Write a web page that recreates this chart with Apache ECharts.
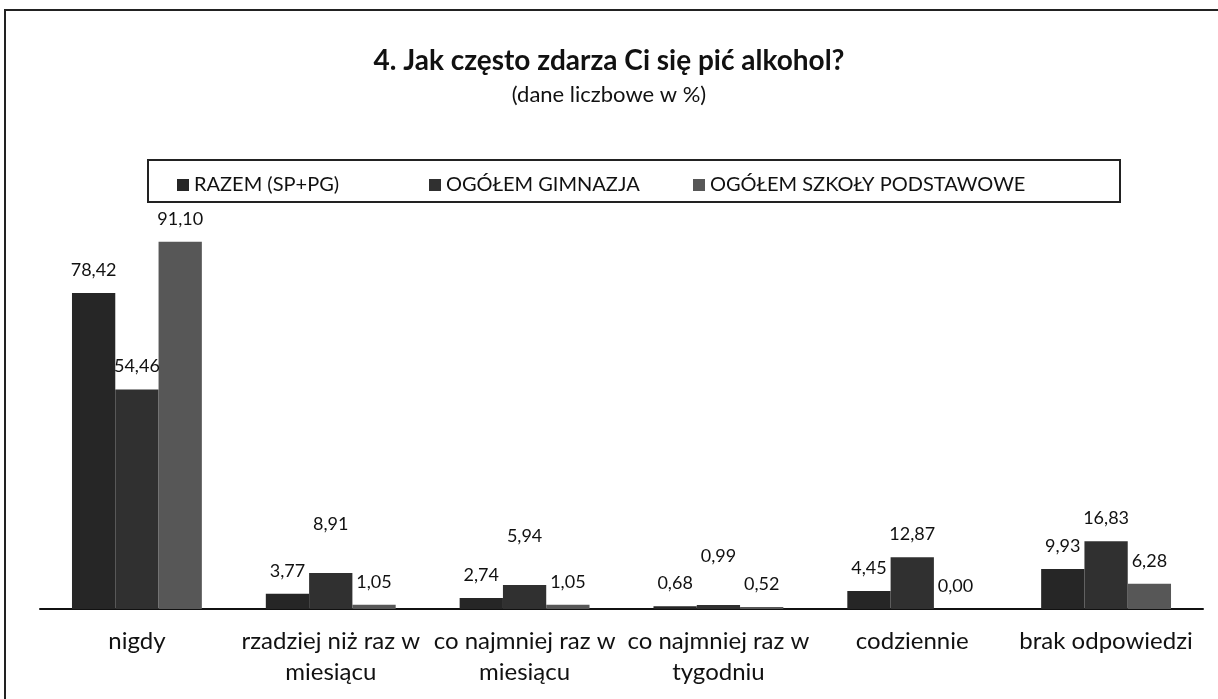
<!DOCTYPE html>
<html>
<head>
<meta charset="utf-8">
<script src="https://cdn.jsdelivr.net/npm/echarts@6/dist/echarts.min.js"></script>
<style>
  html, body { margin: 0; padding: 0; background: #fff; }
  #chart { width: 1218px; height: 699px; }
</style>
</head>
<body>
<div id="chart"></div>
<script>
const categories = [
  'nigdy',
  'rzadziej niż raz w\nmiesiącu',
  'co najmniej raz w\nmiesiącu',
  'co najmniej raz w\ntygodniu',
  'codziennie',
  'brak odpowiedzi'
];

const seriesNames = ['RAZEM (SP+PG)', 'OGÓŁEM GIMNAZJA', 'OGÓŁEM SZKOŁY PODSTAWOWE'];

const razemData = [78.42, 3.77, 2.74, 0.68, 4.45, 9.93];
const gimnazjaData = [54.46, 8.91, 5.94, 0.99, 12.87, 16.83];
const podstawoweData = [91.1, 1.05, 1.05, 0.52, 0.0, 6.28];

// labels of the middle bars that were moved up by hand in the original
const liftedGimnazjaLabels = [false, true, true, true, false, false];

const colors = ['#262626', '#303030', '#575757'];
const fontFamily = 'Lato, "Noto Sans", sans-serif';

const chart = echarts.init(document.getElementById('chart'));

const valueLabel = {
  show: true,
  position: 'top',
  distance: 14,
  color: '#111',
  fontFamily,
  fontSize: 18,
  formatter: p => p.value.toFixed(2).replace('.', ',')
};

const makeSeries = (name, data, i) => ({
  name,
  type: 'bar',
  data,
  barGap: '0%',
  barCategoryGap: '33%',
  itemStyle: { color: colors[i] },
  label: valueLabel
});

const gimnazjaItems = gimnazjaData.map((v, i) =>
  liftedGimnazjaLabels[i] ? { value: v, label: { offset: [0, -26] } } : v
);

const legendItem = (name, left) => ({
  data: [name],
  left,
  top: 170,
  icon: 'rect',
  itemWidth: 12,
  itemHeight: 12,
  itemGap: 0,
  textStyle: { color: '#111', fontFamily, fontSize: 20 }
});

chart.setOption({
  animation: false,
  title: [
    {
      text: '4. Jak często zdarza Ci się pić alkohol?',
      left: 'center',
      top: 42,
      textStyle: { color: '#111', fontFamily, fontWeight: 'bold', fontSize: 28 }
    },
    {
      text: '(dane liczbowe w %)',
      left: 'center',
      top: 79,
      textStyle: { color: '#111', fontFamily, fontWeight: 'normal', fontSize: 22 }
    }
  ],
  graphic: [
    {
      type: 'rect',
      shape: { x: 5, y: 10, width: 1240, height: 720 },
      style: { fill: 'none', stroke: '#222', lineWidth: 2 },
      silent: true
    },
    {
      type: 'rect',
      shape: { x: 148, y: 160, width: 972, height: 42 },
      style: { fill: 'none', stroke: '#222', lineWidth: 2 },
      silent: true
    }
  ],
  legend: [
    legendItem(seriesNames[0], 172),
    legendItem(seriesNames[1], 424),
    legendItem(seriesNames[2], 688)
  ],
  grid: { left: 40, right: 15, top: 206, bottom: 90, containLabel: false },
  xAxis: {
    type: 'category',
    data: categories,
    axisLine: { show: true, lineStyle: { color: '#111', width: 2 } },
    axisTick: { show: false },
    axisLabel: {
      interval: 0,
      margin: 17,
      color: '#111',
      fontFamily,
      fontSize: 24,
      lineHeight: 31
    }
  },
  yAxis: {
    type: 'value',
    min: 0,
    max: 100,
    show: false,
    splitLine: { show: false }
  },
  series: [
    makeSeries(seriesNames[0], razemData, 0),
    makeSeries(seriesNames[1], gimnazjaItems, 1),
    makeSeries(seriesNames[2], podstawoweData, 2)
  ]
});
</script>
</body>
</html>
